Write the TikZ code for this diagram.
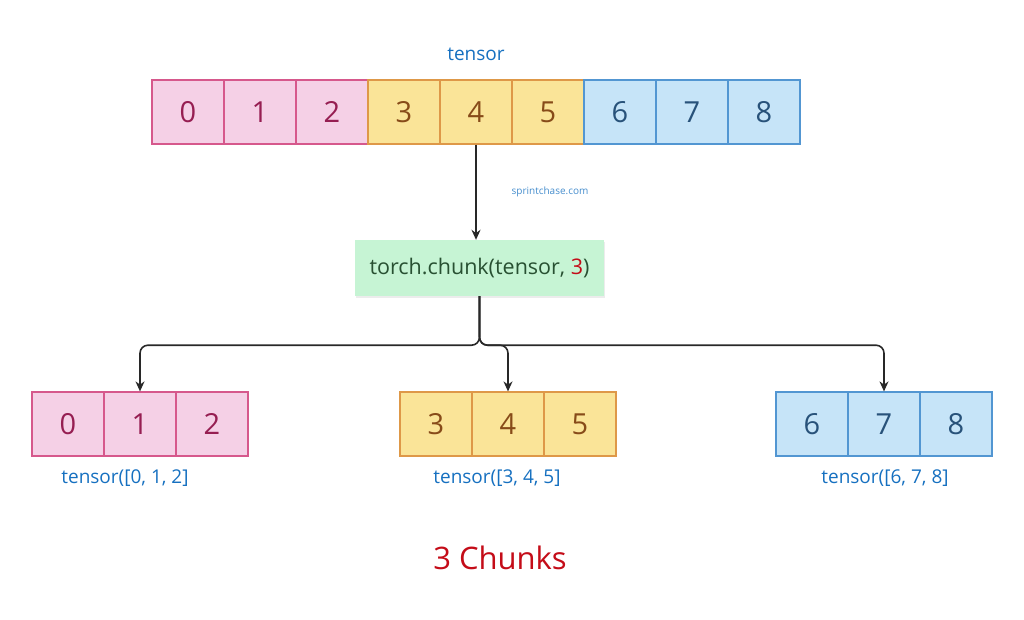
\documentclass[tikz,border=0pt]{standalone}
\usepackage{fontspec}
\usepackage{xcolor}
\setmainfont{Open Sans}
\usetikzlibrary{arrows.meta,shadows}

\definecolor{pinkfill}{RGB}{245,208,230}
\definecolor{pinkline}{RGB}{214,88,140}
\definecolor{pinktext}{RGB}{150,30,82}
\definecolor{yellowfill}{RGB}{250,228,152}
\definecolor{yellowline}{RGB}{222,152,72}
\definecolor{yellowtext}{RGB}{135,75,25}
\definecolor{bluefill}{RGB}{198,228,248}
\definecolor{blueline}{RGB}{82,150,210}
\definecolor{bluetext}{RGB}{40,82,122}
\definecolor{greenfill}{RGB}{198,244,212}
\definecolor{greentext}{RGB}{40,80,50}
\definecolor{lblblue}{RGB}{22,112,192}
\definecolor{chunkred}{RGB}{196,12,24}
\definecolor{linkgray}{RGB}{40,40,40}

\begin{document}
\begin{tikzpicture}[x=1pt,y=-1pt,
  cell/.style={draw,line width=1.2pt,minimum width=72pt,minimum height=64pt,inner sep=0pt,font=\fontsize{29}{31}\selectfont},
  pinkcell/.style={cell,draw=pinkline,fill=pinkfill,text=pinktext},
  yellowcell/.style={cell,draw=yellowline,fill=yellowfill,text=yellowtext},
  bluecell/.style={cell,draw=blueline,fill=bluefill,text=bluetext},
  lbl/.style={text=lblblue,font=\fontsize{19}{22}\selectfont},
  link/.style={draw=linkgray,line width=1.6pt,rounded corners=8pt,-{Stealth[length=10pt,width=9pt]}}]
  \useasboundingbox (0,0) rectangle (1024,620);

  % Input tensor
  \node[lbl] (title) at (476,54) {tensor};
  \foreach \i in {0,1,2} \node[pinkcell] (c\i) at (188+72*\i,112) {\i};
  \foreach \i in {3,4,5} \node[yellowcell] (c\i) at (188+72*\i,112) {\i};
  \foreach \i in {6,7,8} \node[bluecell] (c\i) at (188+72*\i,112) {\i};

  % Chunk call
  \node[fill=greenfill,text=greentext,minimum width=249pt,minimum height=56pt,inner sep=0pt,
        font=\fontsize{21.5}{24}\selectfont,
        drop shadow={opacity=0.15,shadow xshift=1pt,shadow yshift=-2pt}]
        (chunk) at (479.5,268) {torch.chunk(tensor, \textcolor{chunkred}{3})};
  \node[text=lblblue!80,font=\fontsize{10}{12}\selectfont] (site) at (550,192) {sprintchase.com};

  % Output chunks
  \foreach \i in {0,1,2} \node[pinkcell] (a\i) at (68+72*\i,424) {\i};
  \foreach \i in {3,4,5} \node[yellowcell] (b\i) at (436+72*\i-216,424) {\i};
  \foreach \i in {6,7,8} \node[bluecell] (d\i) at (812+72*\i-432,424) {\i};

  % Labels
  \node[lbl] (la) at (125,478) {tensor([0, 1, 2]};
  \node[lbl] (lb) at (497,478) {tensor([3, 4, 5]};
  \node[lbl] (ld) at (885,478) {tensor([6, 7, 8]};
  \node[text=chunkred,font=\fontsize{31}{34}\selectfont] (result) at (500,558) {3 Chunks};

  % Arrows
  \draw[link] (c4.south) -- (c4.south |- chunk.north);
  \draw[link] (chunk.south) -- ++(0,49) -| (a1.north);
  \draw[link] (chunk.south) -- ++(0,49) -| (b4.north);
  \draw[link] (chunk.south) -- ++(0,49) -| (d7.north);
\end{tikzpicture}
\end{document}
